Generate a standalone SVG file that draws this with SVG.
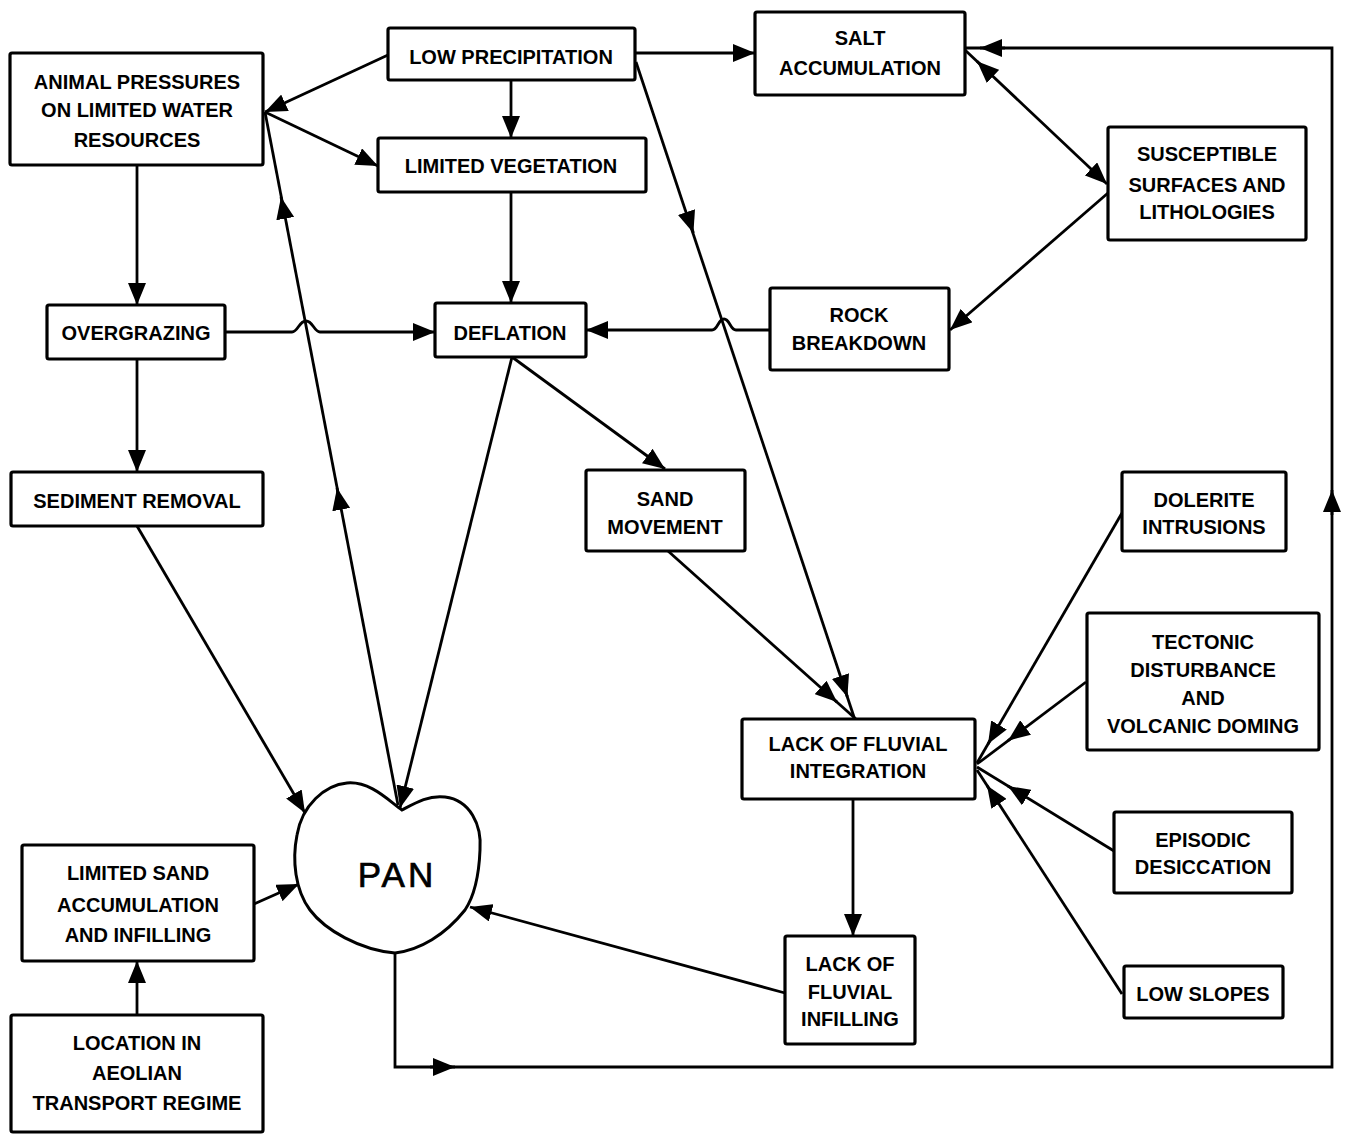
<svg xmlns="http://www.w3.org/2000/svg" width="1349" height="1135" viewBox="0 0 1349 1135">
<style>
.box{fill:#fff;stroke:#000;stroke-width:3.2}
.t{font-family:"Liberation Sans",Arial,sans-serif;font-weight:bold;font-size:20px;text-anchor:middle;fill:#000}
.c{fill:none;stroke:#000;stroke-width:2.8}
.a{marker-end:url(#ah)}
</style>
<defs>
<marker id="ah" viewBox="0 0 22 18" refX="22" refY="9" markerWidth="22" markerHeight="18" markerUnits="userSpaceOnUse" orient="auto"><path d="M0,0 L22,9 L0,18 z" fill="#000"/></marker>
</defs>
<rect width="1349" height="1135" fill="#fff"/>
<g id="connectors">
<path class="c a" d="M388,55 L265,112"/>
<path class="c a" d="M511,80 L511,138"/>
<path class="c a" d="M635,53 L755,53"/>
<path class="c" d="M636,62 L855,720"/>
<path class="c a" d="M687.1,214 L693.4,233"/>
<path class="c a" d="M841.1,678 L847.4,697"/>
<path class="c a" d="M265,112 L378,166"/>
<path class="c a" d="M137,165 L137,305"/>
<path class="c a" d="M225,332 L292,332 C298,332 299,321 306,321 C313,321 314,332 320,332 L435,332"/>
<path class="c a" d="M511,192 L511,303"/>
<path class="c a" d="M770,330 L736,330 C730,330 730,319 724,319 C718,319 718,330 712,330 L586,330"/>
<path class="c a" d="M965,50 L1107,184"/>
<path class="c a" d="M991,74.5 L977,61.3"/>
<path class="c a" d="M1108,193 L950,330"/>
<path class="c a" d="M512,357 L400,808"/>
<path class="c a" d="M512,357 L665,469"/>
<path class="c a" d="M137,359 L137,472"/>
<path class="c a" d="M137,526 L305,813"/>
<path class="c" d="M398,805 L265,112"/>
<path class="c a" d="M340.8,507.6 L337,488"/>
<path class="c a" d="M284.8,216.6 L281,197"/>
<path class="c" d="M668,551 L857,720"/>
<path class="c a" d="M822.1,688.8 L837,702.1"/>
<path class="c a" d="M853,799 L853,936"/>
<path class="c a" d="M785,993 L470,907"/>
<path class="c a" d="M254,904 L299,884"/>
<path class="c a" d="M137,1015 L137,961"/>
<path class="c" d="M395,953 L395,1067 L1332,1067 L1332,48 L965,48"/>
<path class="c a" d="M430,1067 L455,1067"/>
<path class="c a" d="M1332,515 L1332,490"/>
<path class="c a" d="M1005,48 L980,48"/>
<path class="c" d="M1122,513 L977,763"/>
<path class="c a" d="M998,726.7 L988,744"/>
<path class="c" d="M1086,682 L977,764"/>
<path class="c a" d="M1024,728.7 L1008,740.7"/>
<path class="c" d="M1114,851 L977,767"/>
<path class="c a" d="M1025,796.5 L1008,786"/>
<path class="c" d="M1122,994 L977,770"/>
<path class="c a" d="M997.9,802.2 L987,785.4"/>
</g>
<g id="pan">
<path d="M402,810 C415,803 428,795 445,797 C470,800 482,825 480,850 C479,875 475,895 465,910 C445,935 420,950 395,953 C360,950 325,930 310,910 C295,890 292,860 297,835 C302,805 325,785 347,783 C370,781 388,800 402,810 Z" fill="#fff" stroke="#000" stroke-width="3"/>
<text x="397" y="887" font-family="Liberation Sans, Arial, sans-serif" font-size="35" letter-spacing="3" text-anchor="middle" stroke="#000" stroke-width="0.7">PAN</text>
</g>
<g id="low-precipitation"><rect class="box" x="388" y="28" width="247" height="52" rx="2"/><text class="t" x="511" y="64">LOW PRECIPITATION</text></g>
<g id="animal-pressures"><rect class="box" x="10" y="53" width="253" height="112" rx="2"/><text class="t" x="137" y="89">ANIMAL PRESSURES</text><text class="t" x="137" y="117">ON LIMITED WATER</text><text class="t" x="137" y="147">RESOURCES</text></g>
<g id="limited-vegetation"><rect class="box" x="378" y="138" width="268" height="54" rx="2"/><text class="t" x="511" y="173">LIMITED VEGETATION</text></g>
<g id="salt-accumulation"><rect class="box" x="755" y="12" width="210" height="83" rx="2"/><text class="t" x="860" y="45">SALT</text><text class="t" x="860" y="75">ACCUMULATION</text></g>
<g id="susceptible-surfaces"><rect class="box" x="1108" y="127" width="198" height="113" rx="2"/><text class="t" x="1207" y="161">SUSCEPTIBLE</text><text class="t" x="1207" y="192">SURFACES AND</text><text class="t" x="1207" y="219">LITHOLOGIES</text></g>
<g id="overgrazing"><rect class="box" x="47" y="305" width="178" height="54" rx="2"/><text class="t" x="136" y="340">OVERGRAZING</text></g>
<g id="deflation"><rect class="box" x="435" y="303" width="151" height="54" rx="2"/><text class="t" x="510" y="340">DEFLATION</text></g>
<g id="rock-breakdown"><rect class="box" x="770" y="288" width="179" height="82" rx="2"/><text class="t" x="859" y="322">ROCK</text><text class="t" x="859" y="350">BREAKDOWN</text></g>
<g id="sediment-removal"><rect class="box" x="11" y="472" width="252" height="54" rx="2"/><text class="t" x="137" y="508">SEDIMENT REMOVAL</text></g>
<g id="sand-movement"><rect class="box" x="586" y="470" width="159" height="81" rx="2"/><text class="t" x="665" y="506">SAND</text><text class="t" x="665" y="534">MOVEMENT</text></g>
<g id="dolerite-intrusions"><rect class="box" x="1122" y="472" width="164" height="79" rx="2"/><text class="t" x="1204" y="507">DOLERITE</text><text class="t" x="1204" y="534">INTRUSIONS</text></g>
<g id="tectonic-disturbance"><rect class="box" x="1087" y="613" width="232" height="137" rx="2"/><text class="t" x="1203" y="649">TECTONIC</text><text class="t" x="1203" y="677">DISTURBANCE</text><text class="t" x="1203" y="705">AND</text><text class="t" x="1203" y="733">VOLCANIC DOMING</text></g>
<g id="lack-fluvial-integration"><rect class="box" x="742" y="719" width="233" height="80" rx="2"/><text class="t" x="858" y="751">LACK OF FLUVIAL</text><text class="t" x="858" y="778">INTEGRATION</text></g>
<g id="episodic-desiccation"><rect class="box" x="1114" y="812" width="178" height="81" rx="2"/><text class="t" x="1203" y="847">EPISODIC</text><text class="t" x="1203" y="874">DESICCATION</text></g>
<g id="limited-sand"><rect class="box" x="22" y="845" width="232" height="116" rx="2"/><text class="t" x="138" y="880">LIMITED SAND</text><text class="t" x="138" y="912">ACCUMULATION</text><text class="t" x="138" y="942">AND INFILLING</text></g>
<g id="lack-fluvial-infilling"><rect class="box" x="785" y="936" width="130" height="108" rx="2"/><text class="t" x="850" y="971">LACK OF</text><text class="t" x="850" y="999">FLUVIAL</text><text class="t" x="850" y="1026">INFILLING</text></g>
<g id="low-slopes"><rect class="box" x="1124" y="966" width="159" height="52" rx="2"/><text class="t" x="1203" y="1001">LOW SLOPES</text></g>
<g id="location"><rect class="box" x="11" y="1015" width="252" height="117" rx="2"/><text class="t" x="137" y="1050">LOCATION IN</text><text class="t" x="137" y="1080">AEOLIAN</text><text class="t" x="137" y="1110">TRANSPORT REGIME</text></g>
</svg>
